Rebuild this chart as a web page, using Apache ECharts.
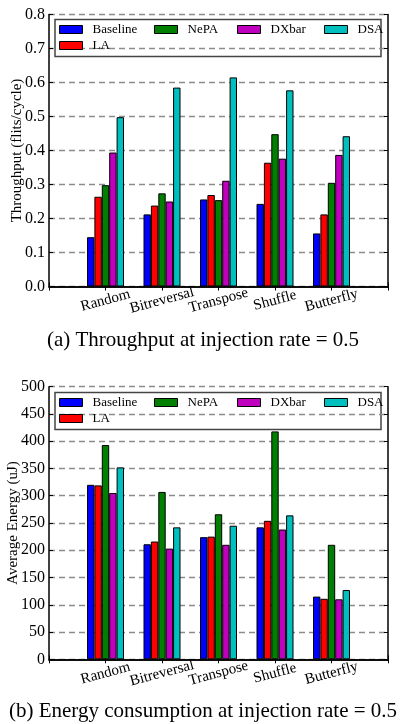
<!DOCTYPE html>
<html>
<head>
<meta charset="utf-8">
<script src="https://cdn.jsdelivr.net/npm/echarts@6/dist/echarts.min.js"></script>
<style>
  html, body { margin: 0; padding: 0; background: #fff; }
  #main { width: 406px; height: 724px; }
</style>
</head>
<body>
<div id="main"></div>
<script>
// categories + values
var patterns = ["Random", "Bitreversal", "Transpose", "Shuffle", "Butterfly"];
var seriesNames = ["Baseline", "LA", "NePA", "DXbar", "DSA"];
var seriesColors = ["#0000ff", "#ff0000", "#007f00", "#bf00bf", "#00bfbf"];

// (a) throughput, flits/cycle
var tpBaseline = [0.145, 0.212, 0.256, 0.243, 0.156];
var tpLA       = [0.264, 0.238, 0.269, 0.364, 0.212];
var tpNePA     = [0.298, 0.274, 0.254, 0.448, 0.305];
var tpDXbar    = [0.394, 0.250, 0.311, 0.376, 0.387];
var tpDSA      = [0.498, 0.585, 0.615, 0.577, 0.442];

// (b) average energy, uJ
var enBaseline = [320, 211, 224, 242, 115];
var enLA       = [319, 216, 225, 254, 111];
var enNePA     = [393, 307, 266, 418, 210];
var enDXbar    = [305, 203, 210, 238, 110];
var enDSA      = [352, 242, 245, 264, 127];

var tpTicks = [0, 0.8, 0.1];
var enTicks = [0, 500, 50];

var FONT = "Liberation Serif";
var myChart = echarts.init(document.getElementById("main"));

// x range runs 0..6 with groups at 1..5, so pad empty slots at both ends
function pad(a) { return [null].concat(a, [null]); }
var cats = pad(patterns).map(function (c) { return c || ""; });

function xAxes(gi) {
  return [
    {
      type: "category", gridIndex: gi, data: cats, boundaryGap: false,
      axisLine: { lineStyle: { color: "#000", width: 1.5 } },
      axisTick: { inside: true, length: 4, interval: 0, lineStyle: { color: "#000" } },
      axisLabel: {
        interval: 0, rotate: 15, align: "center", verticalAlign: "middle", margin: 14,
        color: "#000", fontFamily: FONT, fontSize: 15
      },
      splitLine: { show: false }
    },
    {
      type: "category", gridIndex: gi, data: cats, boundaryGap: false, position: "top",
      axisLine: { lineStyle: { color: "#000", width: 1.5 } },
      axisTick: { inside: true, length: 4, interval: 0, lineStyle: { color: "#000" } },
      axisLabel: { show: false },
      splitLine: { show: false }
    }
  ];
}

function yAxes(gi, ticks, name, fmt, gap) {
  return [
    {
      type: "value", gridIndex: gi, min: ticks[0], max: ticks[1], interval: ticks[2],
      name: name, nameLocation: "middle", nameGap: gap, nameMoveOverlap: false,
      nameTextStyle: { color: "#000", fontFamily: FONT, fontSize: 15 },
      axisLine: { show: true, lineStyle: { color: "#000", width: 1.5 } },
      axisTick: { show: true, inside: true, length: 4, lineStyle: { color: "#000" } },
      axisLabel: { color: "#000", fontFamily: FONT, fontSize: 16, margin: 4, formatter: fmt },
      splitLine: { lineStyle: { color: "#8c8c8c", width: 1.3, type: [6, 4] } }
    },
    {
      type: "value", gridIndex: gi, min: ticks[0], max: ticks[1], interval: ticks[2],
      position: "right",
      axisLine: { show: true, lineStyle: { color: "#000", width: 1.5 } },
      axisTick: { show: true, inside: true, length: 4, lineStyle: { color: "#000" } },
      axisLabel: { show: false },
      splitLine: { show: false }
    }
  ];
}

function barSeries(gi, lists) {
  return lists.map(function (vals, i) {
    return {
      name: seriesNames[i], type: "bar",
      xAxisIndex: gi * 2, yAxisIndex: gi * 2,
      data: pad(vals), barWidth: 7.4, barGap: "0%",
      itemStyle: { color: seriesColors[i], borderColor: "#000", borderWidth: 1 },
      emphasis: { disabled: true }
    };
  });
}

// matplotlib-style legend: 4 columns, LA wraps to second row
var legendCols = { Baseline: [59, 0], LA: [59, 1], NePA: [154, 0], DXbar: [237, 0], DSA: [324, 0] };
function legends(topY) {
  return seriesNames.map(function (n) {
    var p = legendCols[n];
    return {
      data: [n], left: p[0], top: topY + p[1] * 16, padding: 0,
      icon: "rect", itemWidth: 23, itemHeight: 8,
      itemStyle: { borderColor: "#000", borderWidth: 1 },
      textStyle: { color: "#000", fontFamily: FONT, fontSize: 13, padding: [0, 0, 0, 5] }
    };
  });
}

const option = {
  animation: false,
  backgroundColor: "#fff",
  grid: [
    { left: 49, right: 18, top: 14.5, bottom: 437.5, containLabel: false, outerBoundsMode: "none" },
    { left: 49, right: 18, top: 386.7, bottom: 64.7, containLabel: false, outerBoundsMode: "none" }
  ],
  xAxis: xAxes(0).concat(xAxes(1)),
  yAxis: yAxes(0, tpTicks, "Throughput (flits/cycle)", function (v) { return v.toFixed(1); }, 24)
    .concat(yAxes(1, enTicks, "Average Energy (uJ)", "{value}", 28)),
  legend: legends(23).concat(legends(396)),
  series: barSeries(0, [tpBaseline, tpLA, tpNePA, tpDXbar, tpDSA])
    .concat(barSeries(1, [enBaseline, enLA, enNePA, enDXbar, enDSA])),
  graphic: [
    { type: "rect", shape: { x: 55, y: 19.5, width: 326, height: 37 }, z: 0,
      style: { fill: "#fff", stroke: "#444", lineWidth: 1.5 } },
    { type: "rect", shape: { x: 55, y: 392.5, width: 326, height: 37 }, z: 0,
      style: { fill: "#fff", stroke: "#444", lineWidth: 1.5 } },
    { type: "text", left: "center", top: 330,
      style: { text: "(a) Throughput at injection rate = 0.5", fill: "#000", font: "21px '" + FONT + "'" } },
    { type: "text", left: "center", top: 701,
      style: { text: "(b) Energy consumption at injection rate = 0.5", fill: "#000", font: "21px '" + FONT + "'" } }
  ]
};

myChart.setOption(option);
</script>
</body>
</html>
